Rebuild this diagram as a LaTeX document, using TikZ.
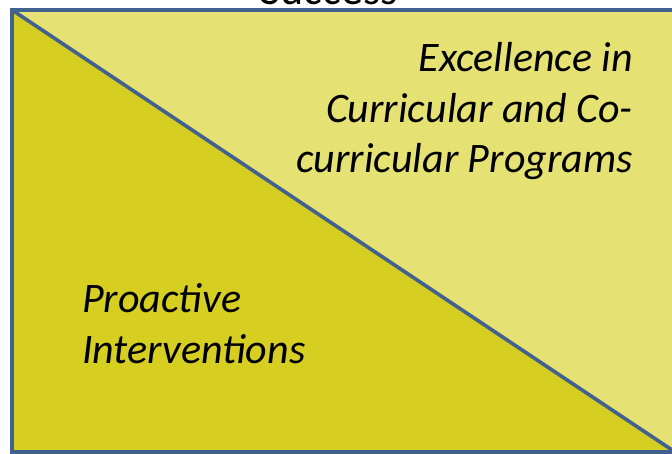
\documentclass[tikz,border=0pt]{standalone}
\usepackage{fontspec}
\setmainfont{Carlito}
\definecolor{lightyel}{HTML}{E6E173}
\definecolor{darkyel}{HTML}{D6CF21}
\definecolor{edgeblue}{HTML}{41618F}
\begin{document}
\begin{tikzpicture}[x=1pt,y=-1pt,
  edge/.style={draw=edgeblue,line width=3.6pt},
  label/.style={font=\fontsize{42}{50.5}\selectfont\itshape,inner sep=0pt}]
\useasboundingbox (0,0) rectangle (672,454);
\clip (0,0) rectangle (672,454);
\coordinate (tl) at (12,10);
\coordinate (tr) at (700,10);
\coordinate (br) at (700,452);
\coordinate (bl) at (12,452);
\coordinate (de) at (675,452);
\fill[lightyel] (tl) -- (tr) -- (br) -- (bl) -- cycle;
\fill[darkyel] (tl) -- (de) -- (bl) -- cycle;
\draw[edge] (tr) -- (tl) -- (bl) -- (br);
\draw[edge] (tl) -- (de);
\node[font=\fontsize{44}{50}\selectfont,inner sep=0pt,anchor=base] (succ) at (329,5) {Success};
\node[label,align=right,anchor=base east] (exc) at (633,173) {Excellence in\\Curricular and Co-\\curricular Programs};
\node[label,align=left,anchor=base west] (pro) at (82,363) {Proactive\\Interventions};
\end{tikzpicture}
\end{document}
